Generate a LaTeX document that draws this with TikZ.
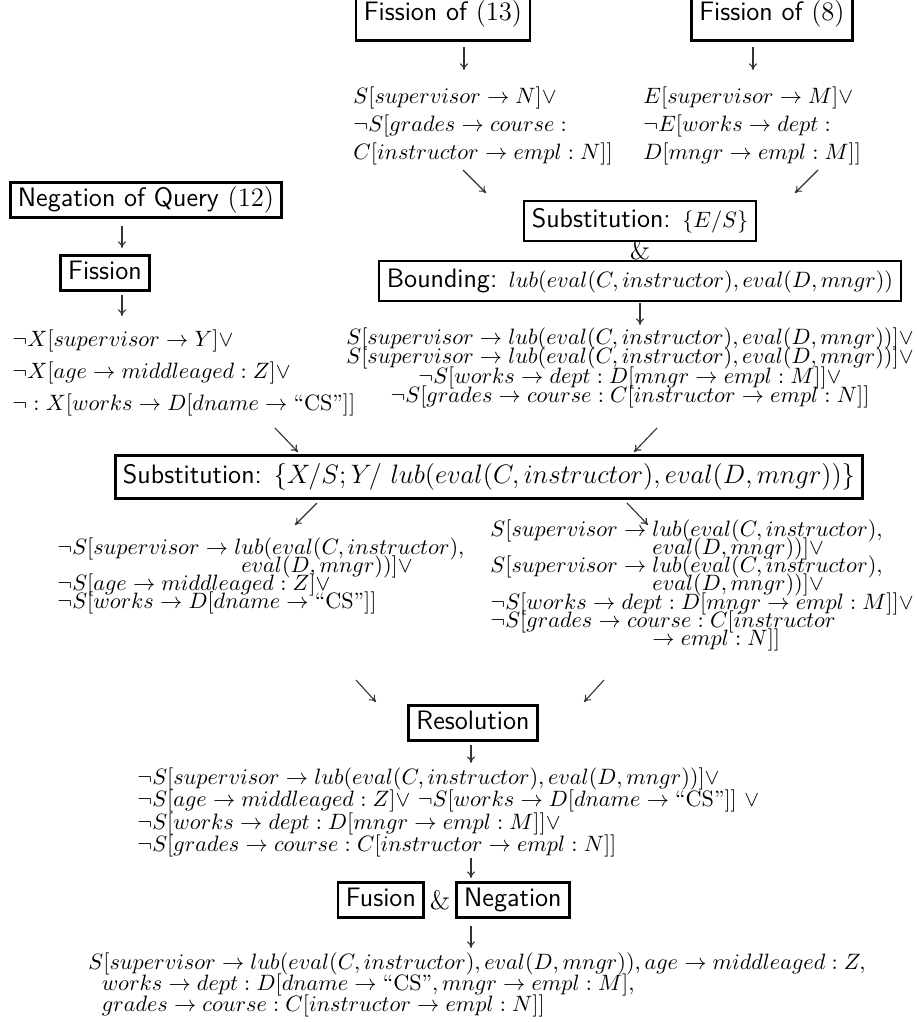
\documentclass[tikz,border=0pt]{standalone}
\usepackage{amsmath}
\usetikzlibrary{arrows.meta}
% font for the formula blocks: 10pt math with a forced line pitch
\newcommand\blockfont[1]{\fontsize{10}{#1}\selectfont\lineskiplimit=-20pt\lineskip=0pt}
\begin{document}
\begin{tikzpicture}[x=0.45pt, y=-0.45pt,
  stepbox/.style={draw, line width=1.2pt, font=\fontsize{12}{14}\selectfont\sffamily,
    inner xsep=3.5pt, inner ysep=1.8pt, text height=9pt, text depth=3pt},
  widebox/.style={stepbox, inner ysep=3pt},
  formula/.style={inner sep=0pt, align=left, anchor=north west},
  flow/.style={-{To[length=3pt,width=3.6pt]}, line width=0.5pt, draw=black!80},
]
\useasboundingbox (0,0) rectangle (916,1022);

% ---------- top: the two fissions ----------
\node[stepbox, inner ysep=6pt, anchor=south] (f13) at (443,42) {Fission of $(13)$};
\node[stepbox, inner ysep=6pt, anchor=south] (f8)  at (772,42) {Fission of $(8)$};

\coordinate (f13a) at (464,47); \coordinate (f13b) at (464,70);
\coordinate (f8a)  at (753,47); \coordinate (f8b)  at (753,70);
\draw[flow] (f13a) -- (f13b);
\draw[flow] (f8a) -- (f8b);

\node[formula, font=\blockfont{12.6pt}] (fa) at (353,86)
  {$S[supervisor \to N]\vee$\\
   $\neg S[grades \to course :$\\
   $C[instructor \to empl : N]]$};
\node[formula, font=\blockfont{12.6pt}] (fb) at (643,86)
  {$E[supervisor \to M]\vee$\\
   $\neg E[works \to dept :$\\
   $D[mngr \to empl : M]]$};

\coordinate (fa1) at (463,170); \coordinate (fa2) at (486,193);
\coordinate (fb1) at (818,170); \coordinate (fb2) at (795,193);
\draw[flow] (fa1) -- (fa2);
\draw[flow] (fb1) -- (fb2);

% ---------- substitution and bounding ----------
\node[widebox] (sub1) at (640,221)
  {Substitution: {\fontsize{10}{12}\selectfont$\{E/S\}$}};
\node[font=\fontsize{12}{14}\selectfont, inner sep=0pt] (amp1) at (640,250) {\&};
\node[widebox] (bnd) at (640,281)
  {Bounding: {\fontsize{10}{12}\selectfont$lub(eval(C, instructor), eval(D, mngr))$}};

\coordinate (bnd1) at (640,303); \coordinate (bnd2) at (640,325);
\draw[flow] (bnd1) -- (bnd2);

\node[formula, align=center, anchor=north, font=\blockfont{8.8pt}] (fd) at (630,327)
  {$S[supervisor \to lub(eval(C, instructor), eval(D, mngr))]\vee$\\
   $S[supervisor \to lub(eval(C, instructor), eval(D, mngr))]\vee$\\
   $\neg S[works \to dept : D[mngr \to empl : M]]\vee$\\
   $\neg S[grades \to course : C[instructor \to empl : N]]$};

% ---------- left: the negated query ----------
\node[stepbox] (negq) at (146,200) {Negation of Query $(12)$};
\coordinate (nq1) at (122,226); \coordinate (nq2) at (122,248);
\draw[flow] (nq1) -- (nq2);
\node[stepbox] (fis) at (105,273) {Fission};
\coordinate (fs1) at (122,295); \coordinate (fs2) at (122,316);
\draw[flow] (fs1) -- (fs2);

\node[formula, font=\blockfont{14.4pt}] (fc) at (12,329)
  {$\neg X[supervisor \to Y]\vee$\\
   $\neg X[age \to middleaged : Z]\vee$\\
   $\neg : X[works \to D[dname \to \text{``CS''}]]$};

\coordinate (fc1) at (275,428); \coordinate (fc2) at (298,452);
\coordinate (fd1) at (657,428); \coordinate (fd2) at (634,452);
\draw[flow] (fc1) -- (fc2);
\draw[flow] (fd1) -- (fd2);

% ---------- unifying substitution ----------
\node[stepbox, inner ysep=4pt, text height=8.5pt] (sub2) at (489,477)
  {Substitution: $\{X/S; Y/\ lub(eval(C, instructor), eval(D, mngr))\}$};

\coordinate (s2l1) at (317,503); \coordinate (s2l2) at (295,525);
\coordinate (s2r1) at (627,503); \coordinate (s2r2) at (648,525);
\draw[flow] (s2l1) -- (s2l2);
\draw[flow] (s2r1) -- (s2r2);

\node[formula, font=\blockfont{8.2pt}] (fe) at (57,537)
  {$\neg S[supervisor \to lub(eval(C, instructor),$\\
   $\phantom{\neg S[supervisor \to l}eval(D, mngr))]\vee$\\
   $\neg S[age \to middleaged : Z]\vee$\\
   $\neg S[works \to D[dname \to \text{``CS''}]]$};

\node[formula, font=\blockfont{8.2pt}] (ff) at (490,519)
  {$S[supervisor \to lub(eval(C, instructor),$\\
   $\phantom{S[supervisor \to{}}eval(D, mngr))]\vee$\\
   $S[supervisor \to lub(eval(C, instructor),$\\
   $\phantom{S[supervisor \to{}}eval(D, mngr))]\vee$\\
   $\neg S[works \to dept : D[mngr \to empl : M]]\vee$\\
   $\neg S[grades \to course : C[instructor$\\
   $\phantom{S[supervisor \to{}}\mathord{\to}\; empl : N]]$};

\coordinate (fe1) at (356,680); \coordinate (fe2) at (376,702);
\coordinate (ff1) at (604,680); \coordinate (ff2) at (584,702);
\draw[flow] (fe1) -- (fe2);
\draw[flow] (ff1) -- (ff2);

% ---------- resolution ----------
\node[stepbox] (res) at (473,723) {Resolution};
\coordinate (rs1) at (471,745); \coordinate (rs2) at (471,763);
\draw[flow] (rs1) -- (rs2);

\node[formula, font=\blockfont{10.1pt}] (fg) at (137,767)
  {$\neg S[supervisor \to lub(eval(C, instructor), eval(D, mngr))]\vee$\\
   $\neg S[age \to middleaged : Z]{\vee}\ \neg S[works \to D[dname \to \text{``CS''}]]\ {\vee}$\\
   $\neg S[works \to dept : D[mngr \to empl : M]]\vee$\\
   $\neg S[grades \to course : C[instructor \to empl : N]]$};

\coordinate (fg1) at (471,858); \coordinate (fg2) at (471,878);
\draw[flow] (fg1) -- (fg2);

% ---------- fusion and negation ----------
\node[stepbox, anchor=east] (fus) at (425,900) {Fusion};
\node[font=\fontsize{12}{14}\selectfont, inner sep=0pt] (amp2) at (440,900) {\&};
\node[stepbox, anchor=west] (neg) at (455,900) {Negation};
\coordinate (ng1) at (471,926); \coordinate (ng2) at (471,948);
\draw[flow] (ng1) -- (ng2);

\node[formula, font=\blockfont{9.5pt}] (fh) at (88,952)
  {$S[supervisor \to lub(eval(C, instructor), eval(D, mngr)), age \to middleaged : Z,$\\
   $\hspace{6pt}works \to dept : D[dname \to \text{``CS''}, mngr \to empl : M],$\\
   $\hspace{6pt}grades \to course : C[instructor \to empl : N]]$};
\end{tikzpicture}
\end{document}
